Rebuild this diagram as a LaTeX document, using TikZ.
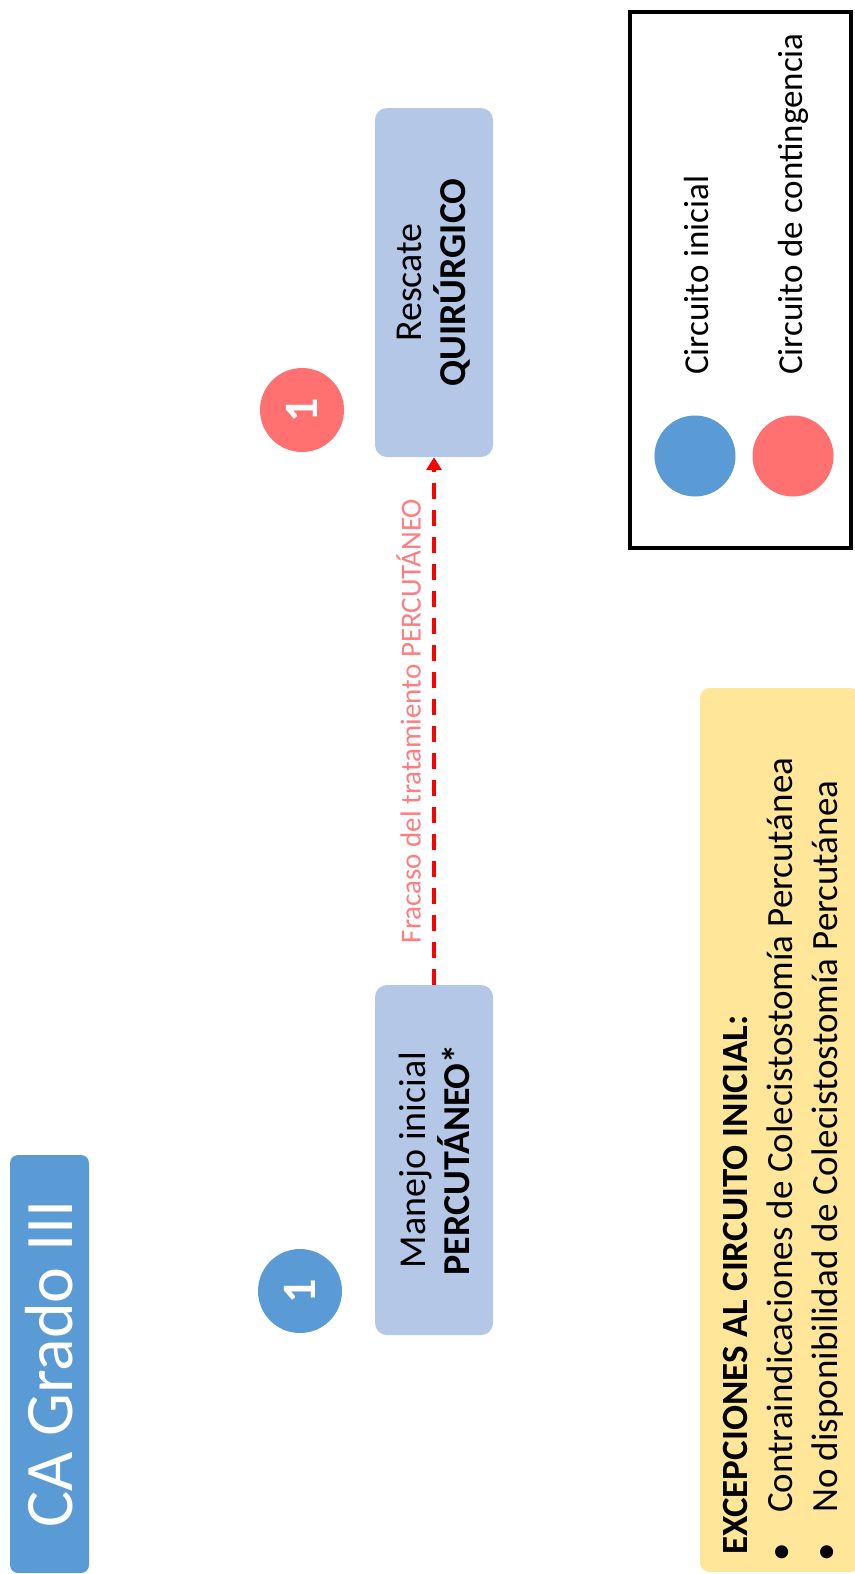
\documentclass[tikz,border=0pt]{standalone}
\usepackage{fontspec}
\setmainfont{Carlito}
\usetikzlibrary{arrows.meta,positioning}
\definecolor{titleblue}{HTML}{5B9BD5}
\definecolor{boxblue}{HTML}{B4C7E7}
\definecolor{circred}{HTML}{FF7171}
\definecolor{labelred}{HTML}{FF7C80}
\definecolor{arrowred}{HTML}{FF0000}
\definecolor{notebox}{HTML}{FFE699}
\newcommand{\fsz}[2]{\fontsize{#1}{#2}\selectfont}
\newcommand{\itemdot}{\makebox[28pt][c]{\textbullet}\hspace{25pt}}
\tikzset{font={\fsz{38}{44}}}

\begin{document}
\begin{tikzpicture}[x=1pt,y=-1pt,
stepbox/.style={rounded corners=12pt,fill=boxblue,rotate=90,align=center,
  minimum height=118pt,inner sep=0pt},
numcirc/.style={circle,minimum size=84pt,inner sep=0pt,rotate=90,text=white,
  font={\fsz{48}{56}\bfseries}},
legcirc/.style={circle,minimum size=81pt,inner sep=0pt},
legtext/.style={rotate=90,anchor=base west,inner sep=0pt,font={\fsz{35}{42}}}
]
\useasboundingbox (0,0) rectangle (854,1574);
% title
\node[fill=titleblue,rounded corners=8pt,rotate=90,text=white,minimum width=418pt,
  minimum height=79pt,inner sep=0pt,font={\fsz{68}{80}}] (title) at (49.5,1364) {CA Grado III};

% circuit
\node[stepbox,minimum width=350pt] (manejo) at (434,1160) {Manejo inicial\\\textbf{PERCUT\'ANEO*}};
\node[stepbox,minimum width=349pt] (rescate) at (434,282.5) {Rescate\\\textbf{QUIR\'URGICO}};
\node[numcirc,fill=titleblue] (n1) at (300,1291) {1};
\node[numcirc,fill=circred] (n2) at (302,410) {1};

\draw[arrowred,line width=4.5pt,dash pattern=on 16pt off 11pt,
  -{Triangle[length=13pt,width=15pt]}] (manejo.east) -- (rescate.west)
  node[midway,above=11pt,sloped,inner sep=0pt,text=labelred,font={\fsz{29}{35}}] (fracaso)
  {Fracaso del tratamiento PERCUT\'ANEO};

% legend
\node[draw=black,line width=4pt,minimum width=221pt,minimum height=536pt,inner sep=0pt]
  (legend) at (740,280) {};
\node[legcirc,fill=titleblue] (legini) at (695,456) {};
\node[legcirc,fill=circred] (legcon) at (793,456) {};
\node[legtext] (tini) at (708,375) {Circuito inicial};
\node[legtext] (tcon) at (802,375) {Circuito de contingencia};

% exceptions
\node[fill=notebox,rounded corners=10pt,minimum width=160pt,minimum height=884pt,inner sep=0pt]
  (excbox) at (780,1130) {};
\node[rotate=90,anchor=base west,inner sep=0pt,font={\fsz{37}{45}\bfseries}] (exctitle) at (747,1555)
  {EXCEPCIONES AL CIRCUITO INICIAL:};
\node[rotate=90,anchor=base west,inner sep=0pt,font={\fsz{37}{45}}] (excone) at (792,1566)
  {\itemdot Contraindicaciones de Colecistostom\'ia Percut\'anea};
\node[rotate=90,anchor=base west,inner sep=0pt,font={\fsz{37}{45}}] (exctwo) at (837,1566)
  {\itemdot No disponibilidad de Colecistostom\'ia Percut\'anea};
\end{tikzpicture}
\end{document}
